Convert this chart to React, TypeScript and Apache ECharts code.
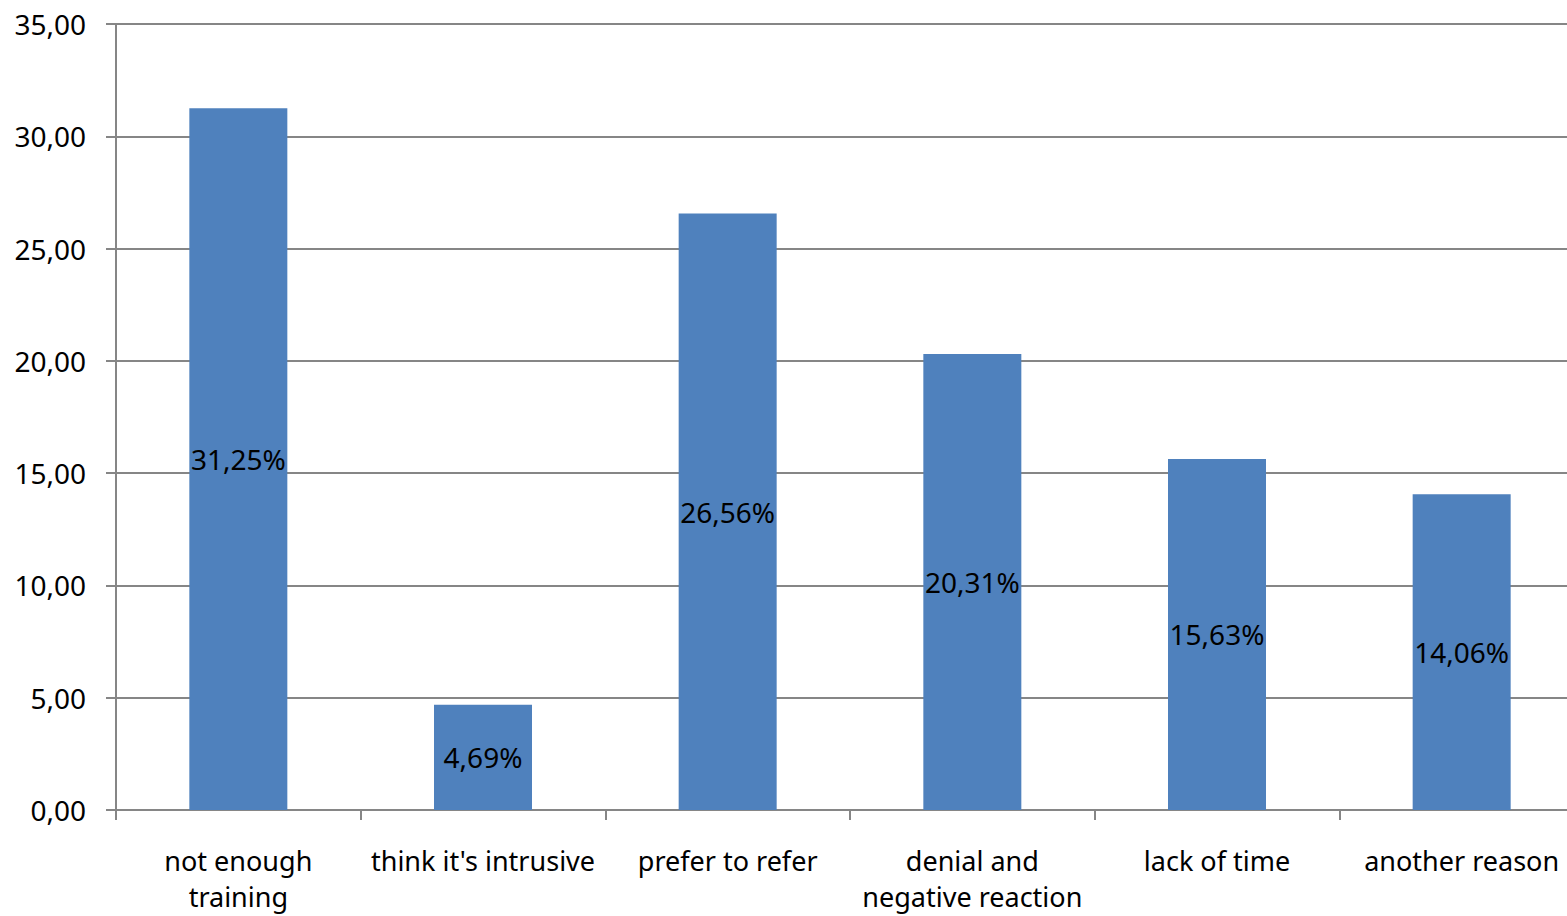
import React, { useEffect, useRef } from "react";
import * as echarts from "echarts";

// Reasons given, with the share of answers for each (percent)
const categories: string[] = [
  "not enough\ntraining",
  "think it's intrusive",
  "prefer to refer",
  "denial and\nnegative reaction",
  "lack of time",
  "another reason",
];
const shares: number[] = [31.25, 4.69, 26.56, 20.31, 15.63, 14.06];

// Value axis range
const axisMin = 0;
const axisMax = 35;
const axisStep = 5;

const FONT = "'Noto Sans', sans-serif";
const GRID_GREY = "#868686";
const BAR_BLUE = "#4F81BD";

const commaDecimal = (v: number) => v.toFixed(2).replace(".", ",");

export default function App() {
  const ref = useRef<HTMLDivElement>(null);

  useEffect(() => {
    if (!ref.current) return;
    const chart = echarts.init(ref.current, undefined, { renderer: "svg" });
    chart.setOption({
      animation: false,
      backgroundColor: "#ffffff",
      // the plot runs a little past the right edge of the canvas
      grid: {
        left: 116,
        right: -17,
        top: 24,
        bottom: 106,
        containLabel: false,
        outerBoundsMode: "none",
      },
      xAxis: {
        type: "category",
        data: categories,
        axisLine: { lineStyle: { color: GRID_GREY, width: 2 } },
        axisTick: {
          show: true,
          length: 10,
          alignWithLabel: false,
          lineStyle: { color: GRID_GREY, width: 2 },
        },
        axisLabel: {
          interval: 0,
          margin: 32,
          color: "#000000",
          fontFamily: FONT,
          fontSize: 27,
          lineHeight: 36,
        },
      },
      yAxis: {
        type: "value",
        min: axisMin,
        max: axisMax,
        interval: axisStep,
        axisLine: { show: true, lineStyle: { color: GRID_GREY, width: 2 } },
        axisTick: { show: true, length: 10, lineStyle: { color: GRID_GREY, width: 2 } },
        splitLine: { show: true, lineStyle: { color: GRID_GREY, width: 2 } },
        axisLabel: {
          margin: 30,
          color: "#000000",
          fontFamily: FONT,
          fontSize: 28,
          formatter: (v: number) => commaDecimal(v),
        },
      },
      series: [
        {
          type: "bar",
          data: shares,
          barWidth: 98,
          itemStyle: { color: BAR_BLUE },
          label: {
            show: true,
            position: "inside",
            color: "#000000",
            fontFamily: FONT,
            fontSize: 28,
            formatter: (p: any) => commaDecimal(p.value) + "%",
          },
        },
      ],
    });
    return () => chart.dispose();
  }, []);

  return (
    <div
      ref={ref}
      style={{ position: "fixed", left: 0, top: 0, width: 1567, height: 916, background: "#fff" }}
    />
  );
}
